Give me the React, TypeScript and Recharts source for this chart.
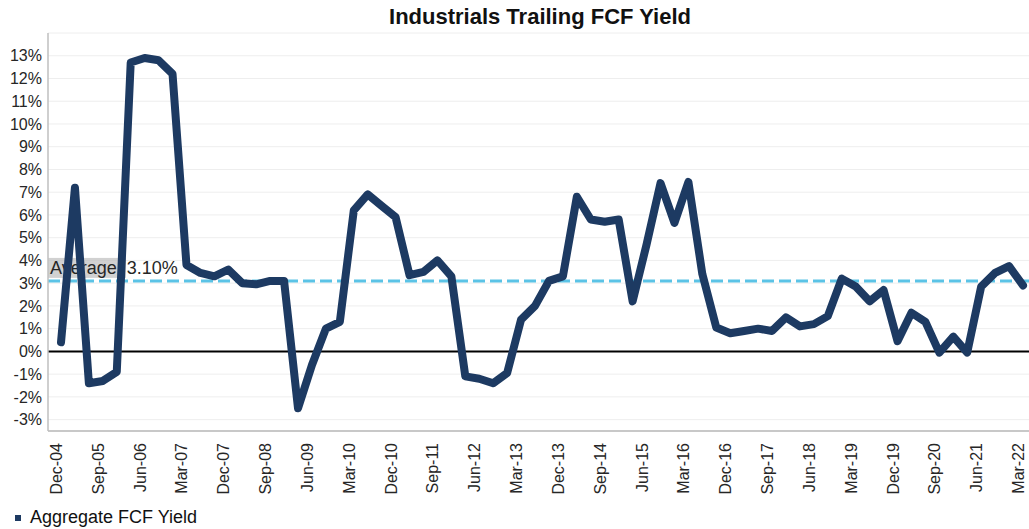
import React from 'react';
import { LineChart, Line, XAxis, YAxis, CartesianGrid, ReferenceLine } from 'recharts';

const quarters = [
  'Dec-04', 'Mar-05', 'Jun-05', 'Sep-05', 'Dec-05', 'Mar-06', 'Jun-06', 'Sep-06', 'Dec-06', 'Mar-07',
  'Jun-07', 'Sep-07', 'Dec-07', 'Mar-08', 'Jun-08', 'Sep-08', 'Dec-08', 'Mar-09', 'Jun-09', 'Sep-09',
  'Dec-09', 'Mar-10', 'Jun-10', 'Sep-10', 'Dec-10', 'Mar-11', 'Jun-11', 'Sep-11', 'Dec-11', 'Mar-12',
  'Jun-12', 'Sep-12', 'Dec-12', 'Mar-13', 'Jun-13', 'Sep-13', 'Dec-13', 'Mar-14', 'Jun-14', 'Sep-14',
  'Dec-14', 'Mar-15', 'Jun-15', 'Sep-15', 'Dec-15', 'Mar-16', 'Jun-16', 'Sep-16', 'Dec-16', 'Mar-17',
  'Jun-17', 'Sep-17', 'Dec-17', 'Mar-18', 'Jun-18', 'Sep-18', 'Dec-18', 'Mar-19', 'Jun-19', 'Sep-19',
  'Dec-19', 'Mar-20', 'Jun-20', 'Sep-20', 'Dec-20', 'Mar-21', 'Jun-21', 'Sep-21', 'Dec-21', 'Mar-22',
];

// trailing FCF yield, in percent
const fcfYield = [
  0.4, 7.2, -1.4, -1.3, -0.9, 12.7, 12.9, 12.8, 12.2, 3.8,
  3.45, 3.3, 3.6, 3.0, 2.95, 3.1, 3.1, -2.5, -0.6, 1.0,
  1.3, 6.2, 6.9, 6.4, 5.9, 3.35, 3.5, 4.0, 3.3, -1.1,
  -1.2, -1.4, -0.95, 1.4, 2.0, 3.1, 3.3, 6.8, 5.8, 5.7,
  5.8, 2.2, 4.7, 7.4, 5.65, 7.45, 3.4, 1.05, 0.8, 0.9,
  1.0, 0.9, 1.5, 1.1, 1.2, 1.55, 3.2, 2.85, 2.2, 2.7,
  0.45, 1.7, 1.3, -0.05, 0.65, -0.05, 2.85, 3.45, 3.75, 2.9,
];

const average = 3.1;
const yTicks = [-3, -2, -1, 0, 1, 2, 3, 4, 5, 6, 7, 8, 9, 10, 11, 12, 13];

const NAVY = '#1d3a62';
const FONT = '"Liberation Sans", Arial, sans-serif';

const chartData = quarters.map((q, i) => ({ quarter: q, value: fcfYield[i] }));

const XTick = ({ x, y, payload }: any) => (
  <text
    x={x + 1}
    y={y + 4}
    transform={`rotate(-90, ${x + 1}, ${y + 4})`}
    textAnchor="end"
    fontSize={16}
    fontFamily={FONT}
    fill="#262626"
  >
    {payload.value}
  </text>
);

const AvgLabel = ({ viewBox }: any) => {
  const { x, y } = viewBox;
  return (
    <g>
      <rect x={x} y={y - 23} width={78} height={20} fill="#bdbdbd" opacity={0.7} />
      <text x={x + 2} y={y - 7} fontSize={18} fontFamily={FONT} fill="#262626">
        {`Average: ${average.toFixed(2)}%`}
      </text>
    </g>
  );
};

export default function App() {
  return (
    <div style={{ position: 'absolute', left: 0, top: 0, width: 1029, height: 529, background: '#fff', fontFamily: FONT }}>
      <div
        style={{
          position: 'absolute', top: 4, left: 0, width: 1080, textAlign: 'center',
          fontSize: 22, fontWeight: 'bold', color: '#111',
        }}
      >
        Industrials Trailing FCF Yield
      </div>
      <LineChart width={1029} height={529} data={chartData} margin={{ top: 33, right: 0, bottom: 28, left: 0 }}>
        <CartesianGrid vertical={false} stroke="#eeeeee" />
        <XAxis
          dataKey="quarter"
          interval={2}
          height={70}
          tick={<XTick />}
          tickLine={false}
          axisLine={{ stroke: '#c8c8c8', strokeWidth: 2 }}
          padding={{ left: 13, right: 6 }}
        />
        <YAxis
          type="number"
          domain={[-3.5, 14]}
          ticks={yTicks}
          interval={0}
          width={48}
          tickLine={false}
          tickSize={6}
          tickMargin={0}
          tickFormatter={(v: number) => `${v}%`}
          tick={{ fontSize: 16, fontFamily: FONT, fill: '#262626' }}
          axisLine={{ stroke: '#bfbfbf', strokeWidth: 1.5 }}
        />
        <ReferenceLine y={0} stroke="#000" strokeWidth={2} />
        <ReferenceLine
          y={average}
          stroke="#5bc3e6"
          strokeWidth={3}
          strokeDasharray="12 5"
          label={<AvgLabel />}
        />
        <Line
          type="linear"
          dataKey="value"
          stroke={NAVY}
          strokeWidth={8}
          strokeLinejoin="round"
          strokeLinecap="round"
          dot={false}
          isAnimationActive={false}
        />
      </LineChart>
      <div style={{ position: 'absolute', left: 15, top: 507, display: 'flex', alignItems: 'center', fontSize: 18, color: '#111' }}>
        <span style={{ display: 'inline-block', width: 6, height: 6, background: NAVY, marginRight: 9 }} />
        Aggregate FCF Yield
      </div>
    </div>
  );
}
